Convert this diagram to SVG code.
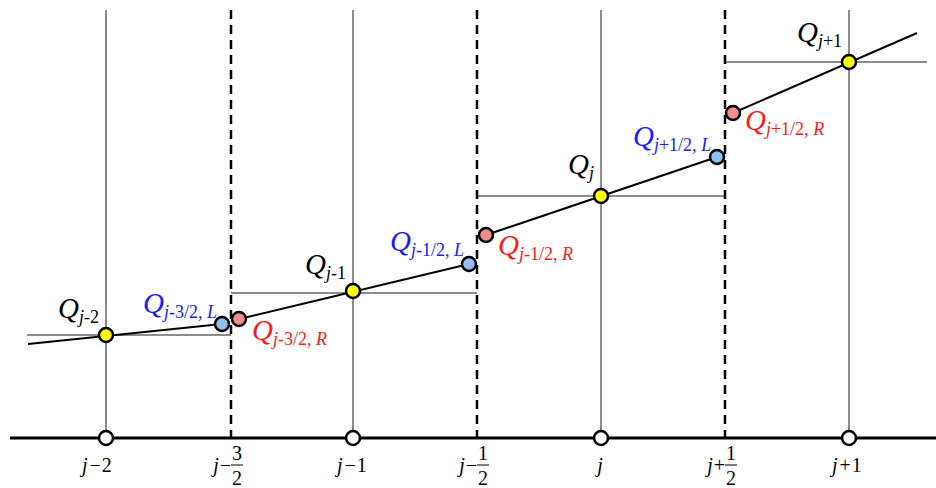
<svg xmlns="http://www.w3.org/2000/svg" width="936" height="488" viewBox="0 0 936 488">
<style>
.grid{stroke:#8c8c8c;stroke-width:2;fill:none}
.dash{stroke:#000;stroke-width:2.5;stroke-dasharray:9,6;fill:none}
.axis{stroke:#000;stroke-width:3;fill:none}
.slope{stroke:#000;stroke-width:2;fill:none}
.bar{stroke:#000;stroke-width:1;fill:none}
.pt{stroke:#000;stroke-width:2.5}
.y{fill:#ffff00}
.b{fill:#8ec0f0}
.r{fill:#f08c8c}
.w{fill:#fff}
text{font-family:"Liberation Serif","Times New Roman",serif}
.q{font-size:29px;font-style:italic}
.s{font-size:18px}
.u{font-style:normal}
.i{font-style:italic}
.ax{font-size:20px}
.blue{fill:#1a1aff}
.red{fill:#ff1a1a}
</style>
<g id="grid">
<line class="grid" x1="106" y1="10" x2="106" y2="438"/>
<line class="grid" x1="353" y1="10" x2="353" y2="438"/>
<line class="grid" x1="601" y1="10" x2="601" y2="438"/>
<line class="grid" x1="849" y1="10" x2="849" y2="438"/>
<line class="grid" x1="27" y1="335" x2="231" y2="335"/>
<line class="grid" x1="231" y1="293" x2="477" y2="293"/>
<line class="grid" x1="477" y1="196" x2="725" y2="196"/>
<line class="grid" x1="725" y1="62" x2="927" y2="62"/>
<line class="dash" x1="231" y1="10" x2="231" y2="438"/>
<line class="dash" x1="477" y1="10" x2="477" y2="438"/>
<line class="dash" x1="725" y1="10" x2="725" y2="438"/>
</g>
<g id="connectors">
<line class="axis" x1="10" y1="438" x2="936" y2="438"/>
<line class="slope" x1="28" y1="344" x2="222" y2="324"/>
<line class="slope" x1="239" y1="319" x2="469" y2="264"/>
<line class="slope" x1="486" y1="235" x2="717" y2="157"/>
<line class="slope" x1="733" y1="113" x2="917" y2="33"/>
</g>
<g id="axis-nodes">
<circle class="pt w" cx="106" cy="438" r="7"/>
<circle class="pt w" cx="353" cy="438" r="7"/>
<circle class="pt w" cx="601" cy="438" r="7"/>
<circle class="pt w" cx="849" cy="438" r="7"/>
</g>
<g id="Qjm2"><circle class="pt y" cx="106" cy="335" r="7"/>
<text class="q" x="58" y="318">Q<tspan class="s" dy="5">j<tspan class="u">-2</tspan></tspan></text></g>
<g id="Qjm1"><circle class="pt y" cx="353" cy="291" r="7"/>
<text class="q" x="305" y="274">Q<tspan class="s" dy="5">j<tspan class="u">-1</tspan></tspan></text></g>
<g id="Qj"><circle class="pt y" cx="601" cy="196" r="7"/>
<text class="q" x="568" y="174">Q<tspan class="s" dy="5">j</tspan></text></g>
<g id="Qjp1"><circle class="pt y" cx="849" cy="62" r="7"/>
<text class="q" x="797" y="42">Q<tspan class="s" dy="5">j<tspan class="u">+1</tspan></tspan></text></g>
<g id="QL1"><circle class="pt b" cx="222" cy="324" r="7"/>
<text class="q blue" x="143" y="313">Q<tspan class="s" dy="5">j<tspan class="u">-3/2, </tspan>L</tspan></text></g>
<g id="QR1"><circle class="pt r" cx="239" cy="319" r="7"/>
<text class="q red" x="252" y="340">Q<tspan class="s" dy="5">j<tspan class="u">-3/2, </tspan>R</tspan></text></g>
<g id="QL2"><circle class="pt b" cx="469" cy="264" r="7"/>
<text class="q blue" x="390" y="251">Q<tspan class="s" dy="5">j<tspan class="u">-1/2, </tspan>L</tspan></text></g>
<g id="QR2"><circle class="pt r" cx="486" cy="235" r="7"/>
<text class="q red" x="498" y="255">Q<tspan class="s" dy="5">j<tspan class="u">-1/2, </tspan>R</tspan></text></g>
<g id="QL3"><circle class="pt b" cx="717" cy="157" r="7"/>
<text class="q blue" x="633" y="146">Q<tspan class="s" dy="5">j<tspan class="u">+1/2, </tspan>L</tspan></text></g>
<g id="QR3"><circle class="pt r" cx="733" cy="113" r="7"/>
<text class="q red" x="745" y="130">Q<tspan class="s" dy="5">j<tspan class="u">+1/2, </tspan>R</tspan></text></g>
<g id="axis-labels" class="ax">
<text x="82" y="472"><tspan class="i">j</tspan><tspan dx="2">−</tspan><tspan dx="1">2</tspan></text>
<text x="337" y="472"><tspan class="i">j</tspan><tspan dx="2">−</tspan><tspan dx="1">1</tspan></text>
<text x="600" y="472" text-anchor="middle" class="i">j</text>
<text x="832" y="472"><tspan class="i">j</tspan><tspan dx="2">+</tspan><tspan dx="1">1</tspan></text>
<text x="231" y="472" text-anchor="end"><tspan class="i">j</tspan><tspan dx="1">−</tspan></text>
<line class="bar" x1="231" y1="465" x2="243" y2="465"/>
<text x="237" y="460" text-anchor="middle">3</text>
<text x="237" y="485" text-anchor="middle">2</text>
<text x="477" y="472" text-anchor="end"><tspan class="i">j</tspan><tspan dx="1">−</tspan></text>
<line class="bar" x1="477" y1="465" x2="489" y2="465"/>
<text x="483" y="460" text-anchor="middle">1</text>
<text x="483" y="485" text-anchor="middle">2</text>
<text x="725" y="472" text-anchor="end"><tspan class="i">j</tspan><tspan dx="1">+</tspan></text>
<line class="bar" x1="725" y1="465" x2="737" y2="465"/>
<text x="731" y="460" text-anchor="middle">1</text>
<text x="731" y="485" text-anchor="middle">2</text>
</g>
</svg>
